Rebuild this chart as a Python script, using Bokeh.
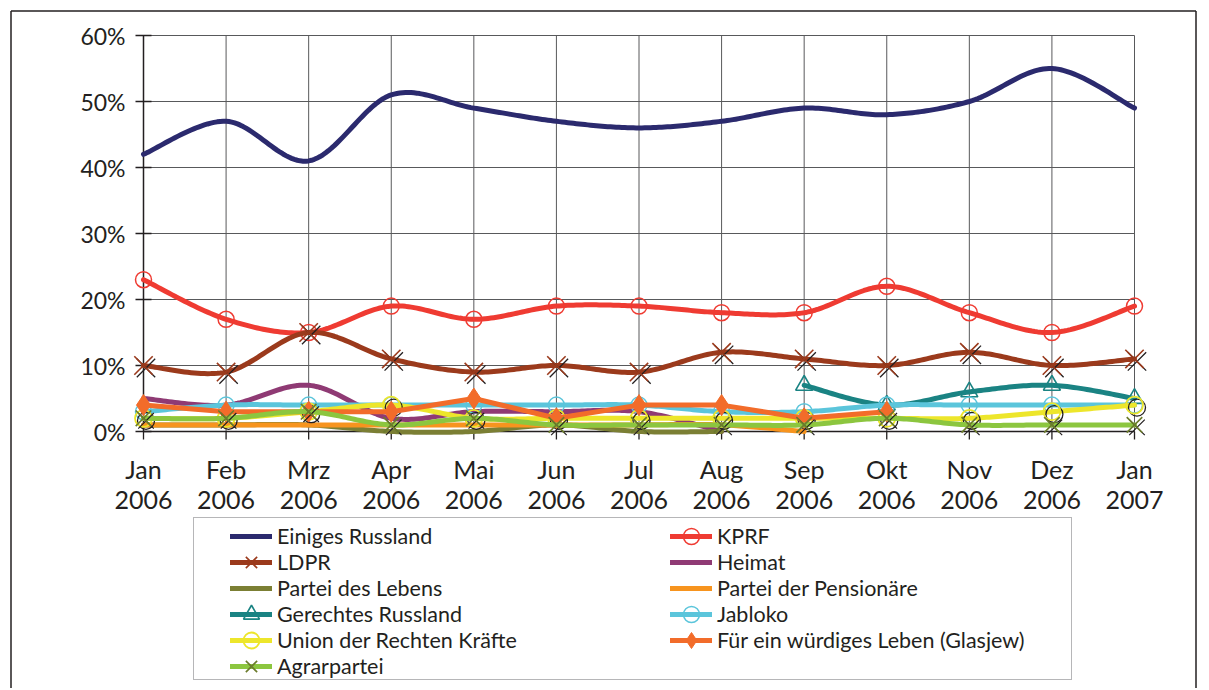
import numpy as np
from bokeh.plotting import figure
from bokeh.models import Legend, LegendItem, Range1d
from bokeh.core.properties import value
from bokeh.embed import file_html
from bokeh.resources import INLINE

# ---------------- data ----------------
months = ["Jan\n2006", "Feb\n2006", "Mrz\n2006", "Apr\n2006", "Mai\n2006", "Jun\n2006",
          "Jul\n2006", "Aug\n2006", "Sep\n2006", "Okt\n2006", "Nov\n2006", "Dez\n2006", "Jan\n2007"]
y_ticks = [0, 10, 20, 30, 40, 50, 60]

einiges_russland = [42, 47, 41, 51, 49, 47, 46, 47, 49, 48, 50, 55, 49]
kprf = [23, 17, 15, 19, 17, 19, 19, 18, 18, 22, 18, 15, 19]
ldpr = [10, 9, 15, 11, 9, 10, 9, 12, 11, 10, 12, 10, 11]
heimat = [5, 4, 7, 2, 3, 3, 3, 0, None, None, None, None, None]
partei_des_lebens = [1, 1, 1, 0, 0, 1, 0, 0, None, None, None, None, None]
partei_der_pensionaere = [1, 1, 1, 1, 1, 1, 1, 1, 0, None, None, None, None]
gerechtes_russland = [None, None, None, None, None, None, None, None, 7, 4, 6, 7, 5]
jabloko = [3, 4, 4, 4, 4, 4, 4, 3, 3, 4, 4, 4, 4]
union_rechte_kraefte = [2, 2, 3, 4, 2, 2, 2, 2, 2, 2, 2, 3, 4]
glasjew = [4, 3, 3, 3, 5, 2, 4, 4, 2, 3, None, None, None]
agrarpartei = [2, 2, 3, 1, 2, 1, 1, 1, 1, 2, 1, 1, 1]

FONT = "Lato"
INK = "#231f20"
GRID = "#58595b"

# ---------------- helpers ----------------
def points(ys):
    xs = [i for i, v in enumerate(ys) if v is not None]
    vs = [v for v in ys if v is not None]
    return np.array(xs, float), np.array(vs, float)

def smooth(ys, n=30):
    xs, vs = points(ys)
    P = np.column_stack([xs, vs])
    if len(P) < 2:
        return xs, vs
    out = []
    t = np.linspace(0, 1, n)[:, None]
    for i in range(len(P) - 1):
        p0 = P[i - 1] if i > 0 else P[i]
        p1, p2 = P[i], P[i + 1]
        p3 = P[i + 2] if i + 2 < len(P) else P[i + 1]
        c1 = p1 + (p2 - p0) / 6.0
        c2 = p2 - (p3 - p1) / 6.0
        b = (1 - t) ** 3 * p1 + 3 * (1 - t) ** 2 * t * c1 + 3 * (1 - t) * t ** 2 * c2 + t ** 3 * p2
        out.append(b if i == 0 else b[1:])
    Q = np.vstack(out)
    return Q[:, 0], Q[:, 1]

# ---------------- geometry (canvas pixels) ----------------
W, H = 1197, 688
X0_PX, X12_PX = 143.0, 1134.0     # canvas x of first / last month
Y60_PX, Y0_PX = 35.0, 431.0       # canvas y of 60% / 0%
nx = len(months)
PX_X = (X12_PX - X0_PX) / (nx - 1)
PX_Y = (Y0_PX - Y60_PX) / y_ticks[-1]

def dx(px):   # screen pixels -> data x distance
    return px / PX_X

def dy(px):
    return px / PX_Y

x_start, x_end = -dx(X0_PX), (nx - 1) + dx(W - X12_PX)
y_start, y_end = -dy(H - Y0_PX), y_ticks[-1] + dy(Y60_PX)

p = figure(width=W, height=H, output_backend="svg", toolbar_location=None, title=None,
           x_axis_location=None, y_axis_location=None,
           x_range=Range1d(x_start, x_end), y_range=Range1d(y_start, y_end),
           min_border=0)
p.outline_line_color = None
p.background_fill_color = "white"
p.border_fill_color = "white"
p.xgrid.visible = False
p.ygrid.visible = False

# outer frame (left, top, right)
fl, fr, ft = x_start + dx(10.5), x_end - dx(1.5), y_end - dy(10.5)
p.segment(x0=[fl, fl, fr], x1=[fl, fr, fr], y0=[y_start, ft, ft], y1=[ft, ft, y_start],
          line_color=INK, line_width=1.5)

# grid (from tick arrays)
p.segment(x0=[0] * len(y_ticks), x1=[nx - 1] * len(y_ticks), y0=y_ticks, y1=y_ticks,
          line_color=GRID, line_width=1)
p.segment(x0=list(range(1, nx)), x1=list(range(1, nx)), y0=[0] * (nx - 1), y1=[y_ticks[-1]] * (nx - 1),
          line_color=GRID, line_width=1)
# axes lines
p.segment(x0=[0], x1=[0], y0=[0], y1=[y_ticks[-1]], line_color=INK, line_width=1.5)
p.segment(x0=[0], x1=[nx - 1], y0=[0], y1=[0], line_color=INK, line_width=1.5)
# ticks
p.segment(x0=[-dx(8)] * len(y_ticks), x1=[dx(8)] * len(y_ticks), y0=y_ticks, y1=y_ticks,
          line_color=INK, line_width=1.3)
p.segment(x0=list(range(nx)), x1=list(range(nx)), y0=[0] * nx, y1=[-dy(8)] * nx,
          line_color=INK, line_width=1.3)
# tick labels
p.text(x=[-dx(18)] * len(y_ticks), y=y_ticks, text=[f"{t}%" for t in y_ticks],
       text_align="right", text_baseline="middle", text_font=value(FONT),
       text_font_size=value("23px"), text_color=INK)
p.text(x=list(range(nx)), y=[-dy(22)] * nx, text=months,
       text_align="center", text_baseline="top", text_font=value(FONT),
       text_font_size=value("25px"), text_color=INK, text_line_height=1.03)

LW = 5
SDX = dx(2.5)
SDY = -dy(2.5)

series = [
    ("Einiges Russland", einiges_russland, "#2b2a6e", None, True),
    ("KPRF", kprf, "#ef3b32", "circle", True),
    ("LDPR", ldpr, "#9b3a1c", "x", True),
    ("Heimat", heimat, "#8f3a74", None, True),
    ("Partei des Lebens", partei_des_lebens, "#7b7f34", None, True),
    ("Partei der Pensionäre", partei_der_pensionaere, "#f7941e", None, True),
    ("Gerechtes Russland", gerechtes_russland, "#1a8383", "triangle", True),
    ("Jabloko", jabloko, "#5bc5db", "circle", True),
    ("Union der Rechten Kräfte", union_rechte_kraefte, "#ede62b", "circle", True),
    ("Für ein würdiges Leben (Glasjew)", glasjew, "#f26c2a", "diamond", False),
    ("Agrarpartei", agrarpartei, "#8cc63f", "xolive", True),
]

items = []
for name, ys, color, marker, smoothed in series:
    if smoothed:
        sx, sy = smooth(ys)
    else:
        sx, sy = points(ys)
    rl = p.line(sx, sy, line_color=color, line_width=LW, line_cap="round", line_join="round")
    rs = [rl]
    px, py = points(ys)
    if marker == "circle":
        if name == "Union der Rechten Kräfte":
            p.scatter(px + SDX, py + SDY, marker="circle", size=17, fill_color=None,
                      line_color=INK, line_width=1.3)
            rs.append(p.scatter(px, py, marker="circle", size=17, fill_color=None,
                                line_color=color, line_width=1.8))
        else:
            rs.append(p.scatter(px, py, marker="circle", size=16, fill_color=None,
                                line_color=color, line_width=1.5))
    elif marker == "x":
        p.scatter(px + SDX, py + SDY, marker="x", size=26, line_color=INK, line_width=1.3)
        rs.append(p.scatter(px, py, marker="x", size=26, line_color=color, line_width=1.6))
    elif marker == "triangle":
        rs.append(p.scatter(px, py, marker="triangle", size=17, fill_color=None,
                            line_color=color, line_width=1.6))
    elif marker == "diamond":
        rs.append(p.scatter(px, py, marker="diamond", size=21,
                            fill_color=color, line_color=color, line_width=1))
    elif marker == "xolive":
        p.scatter(px + SDX, py + SDY, marker="x", size=22, line_color=INK, line_width=1.2)
        rs.append(p.scatter(px, py, marker="x", size=22, line_color="#6b7b2c", line_width=1.6))
    items.append(LegendItem(label=name, renderers=rs))

# legend frame (box only)
dummy = p.line(x=[], y=[], line_alpha=0)
box = Legend(items=[LegendItem(label=" ", renderers=[dummy])], location=(193, 8),
             padding=0, margin=0, spacing=0, glyph_width=1, glyph_height=161,
             label_width=876, label_height=161, label_standoff=0,
             border_line_color="#6d6e71", border_line_width=1.5,
             background_fill_color="white", background_fill_alpha=1)
box.label_text_font_size = "2px"
p.add_layout(box, "center")

# one small legend per entry: two columns, 26px row pitch
ROW0_CENTER, ROW_PITCH, GH = 536, 26, 40
COL_X = [230, 670]
for k, it in enumerate(items):
    row, col = divmod(k, 2)
    bottom = ROW0_CENTER + row * ROW_PITCH + GH / 2
    lg = Legend(items=[it], location=(COL_X[col], int(round(H - bottom))), padding=0, margin=0,
                spacing=0, glyph_width=42, glyph_height=GH, label_height=GH, label_standoff=5,
                border_line_color=None, background_fill_alpha=0)
    lg.label_text_font = FONT
    lg.label_text_font_size = "21.5px"
    lg.label_text_color = INK
    p.add_layout(lg, "center")

open("out.html", "w").write(file_html(p, INLINE))
